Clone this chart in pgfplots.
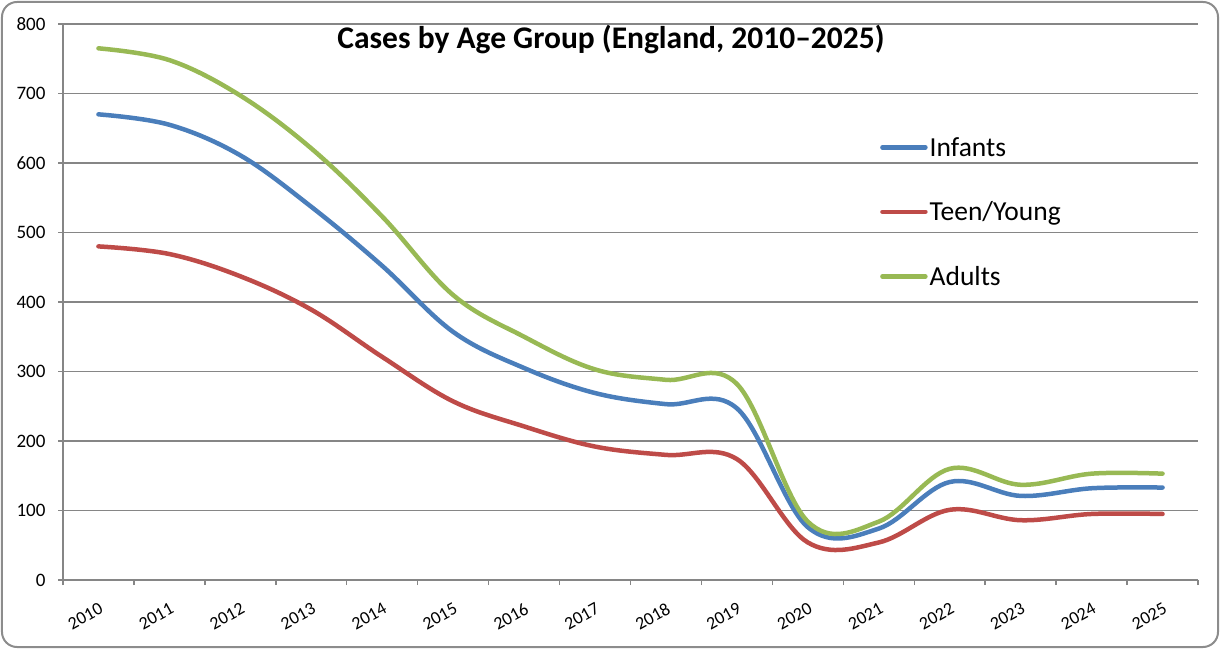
\documentclass[border=0pt]{standalone}
\usepackage{fontspec}
\setmainfont{Carlito}
\usepackage{pgfplots}
\pgfplotsset{compat=1.18}

\definecolor{gridgray}{RGB}{134,134,134}
\definecolor{framegray}{RGB}{140,140,140}
\definecolor{infblue}{RGB}{74,126,187}
\definecolor{teenred}{RGB}{190,75,72}
\definecolor{adultgreen}{RGB}{152,185,84}

\begin{document}
\begin{tikzpicture}
\useasboundingbox (-63pt,-70pt) rectangle (1159pt,580pt);
\draw[rounded corners=15pt, draw=framegray, line width=2pt] (-61pt,-67pt) rectangle (1155pt,578pt);
\begin{axis}[
    at={(0,0)}, anchor=south west,
    scale only axis, width=1135pt, height=556pt,
    xmin=2009.5, xmax=2025.5, ymin=0, ymax=800,
    axis lines=left,
    axis line style={-, draw=gridgray, line width=1.5pt},
    xtick={2010,2011,...,2025},
    minor xtick={2009.5,2010.5,...,2025.5},
    ytick={0,100,...,800},
    ymajorgrids,
    major grid style={draw=gridgray, line width=1.5pt},
    tick align=outside,
    major tick length=5pt, minor tick length=5pt,
    tick style={draw=gridgray, line width=1.5pt},
    major x tick style={draw=none},
    /pgf/number format/1000 sep={},
    /pgf/number format/assume math mode=true,
    yticklabel style={font=\fontsize{19}{23}\selectfont, xshift=-9pt},
    xticklabel style={font=\fontsize{18}{21}\selectfont, rotate=29, anchor=east, xshift=-5pt, yshift=-21pt},
    title={Cases by Age Group (England, 2010\textendash2025)},
    title style={at={(axis description cs:0.4828,0.946)}, anchor=base,
        font=\bfseries\fontsize{31.5}{36}\selectfont},
    legend style={at={(axis description cs:0.7198,0.8004)}, anchor=north west,
        draw=none, fill=none, inner sep=0pt, row sep=40pt,
        font=\fontsize{27.5}{33}\selectfont, nodes={inner sep=2pt}},
    legend cell align=left,
    legend image code/.code={\draw[#1, line cap=round] (0pt,0pt) -- (43pt,0pt);},
    every axis plot/.append style={line width=4.5pt, smooth, tension=0.6, line cap=round, line join=round},
]
\addplot[infblue] coordinates {
  (2010,670) (2011,655) (2012,611) (2013,537) (2014,452) (2015,357) (2016,305) (2017,269)
  (2018,253) (2019,247) (2020,76) (2021,74) (2022,141) (2023,121) (2024,132) (2025,133)};
\addlegendentry{Infants}
\addplot[teenred] coordinates {
  (2010,480) (2011,469) (2012,437) (2013,389) (2014,321) (2015,257) (2016,221) (2017,192)
  (2018,180) (2019,174) (2020,54) (2021,54) (2022,101) (2023,86) (2024,95) (2025,95)};
\addlegendentry{Teen/Young}
\addplot[adultgreen] coordinates {
  (2010,765) (2011,748) (2012,697) (2013,621) (2014,523) (2015,410) (2016,350) (2017,303)
  (2018,288) (2019,282) (2020,84) (2021,84) (2022,160) (2023,137) (2024,153) (2025,153)};
\addlegendentry{Adults}
\end{axis}
\end{tikzpicture}
\end{document}
